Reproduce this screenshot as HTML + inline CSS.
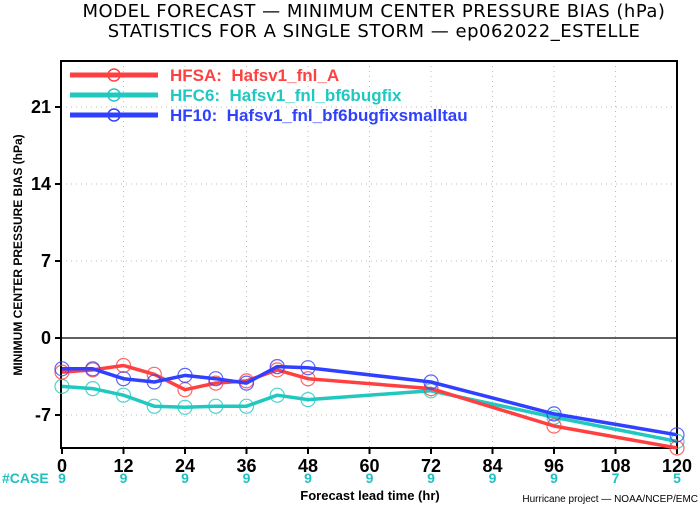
<!DOCTYPE html>
<html><head><meta charset="utf-8"><style>
body{margin:0;background:#fff;width:700px;height:506px;overflow:hidden}
svg{display:block;font-family:"Liberation Sans","DejaVu Sans",sans-serif;font-weight:bold}
</style></head><body>
<svg id="chart" width="700" height="506" viewBox="0 0 700 506">
<text x="374" y="17" font-size="18" font-weight="normal" letter-spacing="0.5" text-anchor="middle" style="font-family:'DejaVu Sans',sans-serif">MODEL FORECAST — MINIMUM CENTER PRESSURE BIAS (hPa)</text>
<text x="374" y="37" font-size="18" font-weight="normal" letter-spacing="0.5" text-anchor="middle" style="font-family:'DejaVu Sans',sans-serif">STATISTICS FOR A SINGLE STORM — ep062022_ESTELLE</text>
<g id="grid"></g>
<g id="axes"></g>
<g id="series"></g>
<g id="legend"></g>
<text x="22" y="255" font-size="12" text-anchor="middle" transform="rotate(-90 22 255)">MINIMUM CENTER PRESSURE BIAS (hPa)</text>
<text x="370" y="500" font-size="13" text-anchor="middle">Forecast lead time (hr)</text>
<text x="2" y="483" font-size="14" fill="#20c0c0">#CASE</text>
<text x="698" y="502" font-size="10" font-weight="normal" text-anchor="end">Hurricane project — NOAA/NCEP/EMC</text>
</svg>
<script>
const leadTimes=[0,6,12,18,24,30,36,42,48,72,96,120];
const hfsaBias=[-3.1,-2.9,-2.5,-3.3,-4.7,-4.1,-3.9,-2.9,-3.7,-4.6,-8.0,-10.0];
const hfc6Bias=[-4.4,-4.6,-5.2,-6.2,-6.3,-6.2,-6.2,-5.2,-5.6,-4.8,-7.2,-9.4];
const hf10Bias=[-2.8,-2.8,-3.7,-4.0,-3.4,-3.7,-4.1,-2.6,-2.7,-4.0,-6.9,-8.8];
const xTicks=[0,12,24,36,48,60,72,84,96,108,120];
const yTicks=[-7,0,7,14,21];
const caseTicks=[0,12,24,36,48,60,72,84,96,108,120];
const caseCounts=["9","9","9","9","9","9","9","9","9","7","5"];
const seriesNames=["HFSA:  Hafsv1_fnl_A","HFC6:  Hafsv1_fnl_bf6bugfix","HF10:  Hafsv1_fnl_bf6bugfixsmalltau"];
const NS="http://www.w3.org/2000/svg";
const L=61,R=677,T=61,B=448;
const xs=v=>62+v*(677-62)/120;
const ys=v=>338-11*v;
function mk(tag,attrs,parent){const e=document.createElementNS(NS,tag);for(const k in attrs)e.setAttribute(k,attrs[k]);parent.appendChild(e);return e;}
const grid=document.getElementById('grid'),axes=document.getElementById('axes'),ser=document.getElementById('series'),leg=document.getElementById('legend');
xTicks.forEach(t=>{if(t>0&&t<120){const g=mk('line',{x1:xs(t),x2:xs(t),y1:T,y2:B,stroke:'#bbb','stroke-dasharray':'1 4'},grid);}
 const tk=mk('line',{x1:xs(t),x2:xs(t),y1:B,y2:B+6,stroke:'#000','stroke-width':2},axes);
 const tx=mk('text',{x:xs(t),y:B+24,'font-size':18,'text-anchor':'middle'},axes);tx.textContent=t;});
yTicks.forEach(t=>{if(t!==0){const g=mk('line',{x1:L,x2:R,y1:ys(t),y2:ys(t),stroke:'#bbb','stroke-dasharray':'1 4'},grid);}
 const tk=mk('line',{x1:L-6,x2:L,y1:ys(t),y2:ys(t),stroke:'#000','stroke-width':2},axes);
 const tx=mk('text',{x:L-10,y:ys(t)+6,'font-size':18,'text-anchor':'end'},axes);tx.textContent=t;});
const zl=mk('line',{x1:L,x2:R,y1:ys(0),y2:ys(0),stroke:'#000','stroke-width':1.2},axes);


const box=mk('rect',{x:L,y:T,width:R-L,height:B-T,fill:'none',stroke:'#000','stroke-width':2},axes);


caseTicks.forEach((t,i)=>{const tx=mk('text',{x:xs(t),y:483,'font-size':14,fill:'#20c0c0','text-anchor':'middle'},axes);tx.textContent=caseCounts[i];});
const colors=['#ff4040','#20c8c0','#3040ff'];
const datas=[hfsaBias,hfc6Bias,hf10Bias];
const names=['hfsa','hfc6','hf10'];
[1,0,2].forEach(si=>{const d=datas[si];
 const pl=mk('polyline',{points:leadTimes.map((t,i)=>xs(t)+','+ys(d[i])).join(' '),fill:'none',stroke:colors[si],'stroke-width':3.5,'stroke-linejoin':'round'},ser);
 
 leadTimes.forEach((t,i)=>{const c=mk('circle',{cx:xs(t),cy:ys(d[i]),r:7,fill:'none',stroke:colors[si],'stroke-width':1.2,opacity:0.8},ser);});});
seriesNames.forEach((n,i)=>{const y=75+i*20;
 const l=mk('line',{x1:70,x2:158,y1:y,y2:y,stroke:colors[i],'stroke-width':5},leg);
 const c=mk('circle',{cx:114,cy:y,r:6,fill:'none',stroke:colors[i],'stroke-width':1.5},leg);
 const tx=mk('text',{x:170,y:y+6,'font-size':17,fill:colors[i]},leg);tx.textContent=n;tx.setAttribute('xml:space','preserve');tx.style.whiteSpace='pre';});
</script>
</body></html>
